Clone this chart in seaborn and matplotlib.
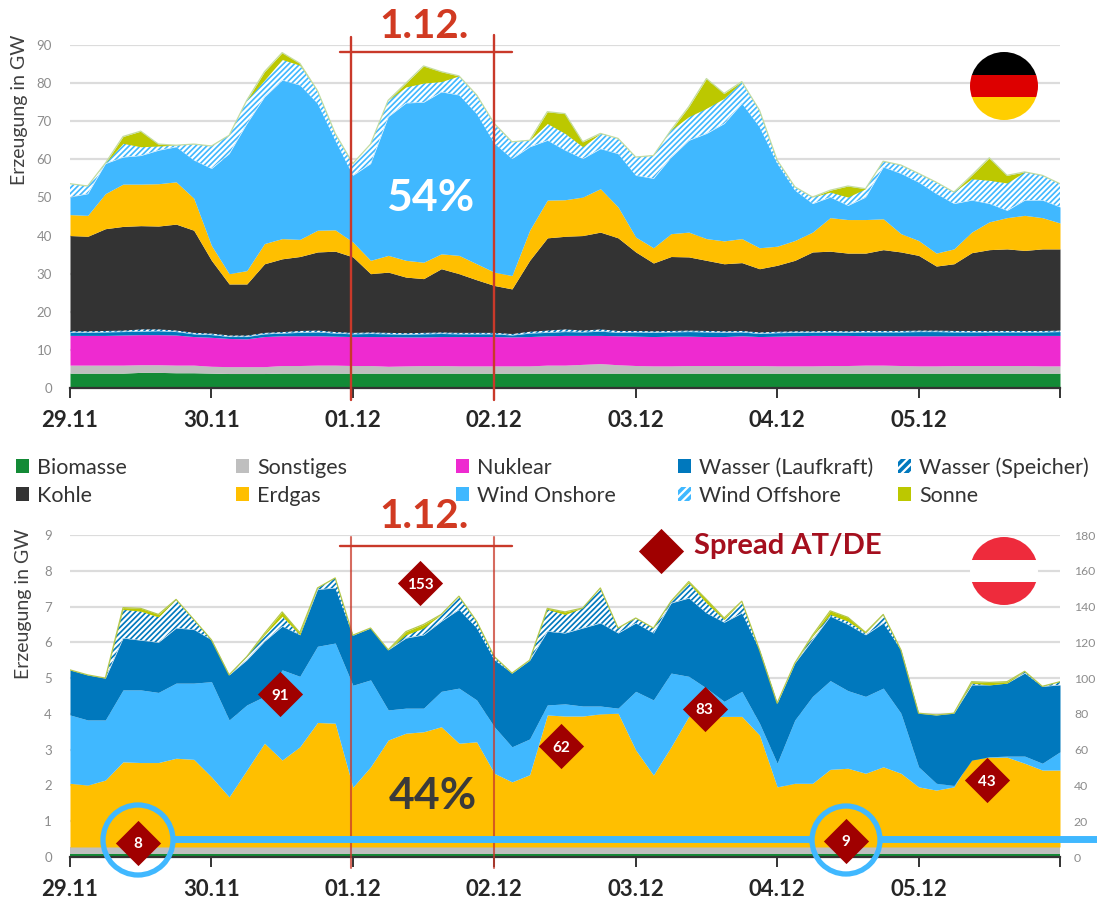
import numpy as np
import matplotlib
matplotlib.use('Agg')
import matplotlib.pyplot as plt
from matplotlib.patches import Rectangle, Circle
import seaborn as sns

hours = list(range(0, 169, 3))
day_labels = ['29.11', '30.11', '01.12', '02.12', '03.12', '04.12', '05.12']
de_ticks = [0, 10, 20, 30, 40, 50, 60, 70, 80, 90]
at_ticks = [0, 1, 2, 3, 4, 5, 6, 7, 8, 9]
spread_ticks = [0, 20, 40, 60, 80, 100, 120, 140, 160, 180]

# upper edge of each stacked layer, Germany (GW)
de_biomasse = [3.9, 3.9, 3.9, 3.9, 4.1, 4.1, 4.0, 4.0, 3.9, 3.8, 3.8, 3.8, 3.9, 3.9, 3.9, 3.9, 3.9, 3.9, 3.9, 3.9,
               3.9, 3.9, 3.9, 3.9, 3.9, 3.9, 3.9, 3.9, 3.9, 3.9, 3.9, 3.9, 3.9, 3.9, 3.9, 3.9, 3.9, 3.9,
               3.9, 3.9, 3.9, 3.9, 3.9, 3.9, 3.9, 3.9, 3.9, 3.9, 3.9, 3.9, 3.9, 3.9, 3.9, 3.9, 3.9, 3.9, 3.9]
de_sonstiges = [6.0, 6.0, 6.0, 6.0, 6.1, 6.1, 6.0, 6.0, 5.7, 5.6, 5.6, 5.6, 5.9, 5.9, 6.0, 6.0, 5.9, 5.9, 5.7, 5.8,
                5.9, 5.9, 5.8, 5.8, 5.8, 5.8, 5.8, 6.0, 6.0, 6.2, 6.4, 6.1, 5.9, 5.8, 5.8, 5.9, 5.9, 5.9,
                5.9, 5.9, 5.8, 5.8, 5.8, 5.9, 5.9, 6.0, 6.0, 5.9, 5.8, 5.8, 5.9, 5.9, 5.9, 5.9, 5.9, 5.8, 5.8]
de_nuklear = [13.8, 13.8, 13.8, 13.9, 14.0, 14.0, 13.9, 13.5, 13.3, 13.0, 12.9, 13.5, 13.7, 13.7, 13.7, 13.6, 13.5, 13.5, 13.5, 13.4,
              13.4, 13.5, 13.5, 13.5, 13.5, 13.4, 13.5, 13.7, 13.8, 13.8, 13.8, 13.7, 13.6, 13.5, 13.6, 13.6, 13.5, 13.5,
              13.7, 13.5, 13.6, 13.7, 13.8, 13.8, 13.8, 13.7, 13.7, 13.7, 13.7, 13.7, 13.7, 13.7, 13.8, 13.8, 13.8, 13.8, 13.8]
de_lauf = [14.6, 14.6, 14.7, 14.8, 14.9, 15.0, 14.8, 14.2, 14.0, 13.5, 13.5, 14.2, 14.4, 14.6, 14.7, 14.4, 14.2, 14.3, 14.2, 14.1,
           14.2, 14.3, 14.2, 14.2, 14.2, 13.9, 14.4, 14.6, 14.8, 14.7, 14.9, 14.6, 14.7, 14.6, 14.7, 14.8, 14.7, 14.6,
           14.7, 14.3, 14.5, 14.6, 14.6, 14.7, 14.6, 14.7, 14.7, 14.7, 14.8, 14.8, 14.7, 14.7, 14.7, 14.7, 14.7, 14.7, 14.8]
de_speicher = [15.0, 15.0, 15.1, 15.2, 15.5, 15.5, 15.2, 14.6, 14.4, 13.9, 13.9, 14.6, 14.8, 15.1, 15.2, 14.8, 14.6, 14.7, 14.6, 14.5,
               14.6, 14.7, 14.6, 14.6, 14.6, 14.3, 14.9, 15.2, 15.5, 15.2, 15.5, 15.1, 15.1, 15.0, 15.1, 15.2, 15.1, 15.0,
               15.1, 14.7, 14.9, 15.0, 15.0, 15.1, 15.0, 15.1, 15.1, 15.1, 15.2, 15.2, 15.1, 15.1, 15.1, 15.1, 15.1, 15.1, 15.2]
de_kohle = [40.0, 39.8, 41.8, 42.4, 42.6, 42.5, 43.0, 41.4, 33.5, 27.3, 27.3, 32.6, 33.9, 34.5, 35.7, 35.9, 34.4, 30.0, 30.4, 29.1,
            28.7, 31.3, 30.0, 28.4, 26.9, 26.0, 33.5, 39.4, 39.8, 40.0, 40.9, 39.4, 35.7, 32.8, 34.5, 34.4, 33.5, 32.6,
            32.9, 31.3, 32.2, 33.5, 35.7, 35.9, 35.4, 35.4, 36.3, 35.7, 34.8, 32.0, 32.6, 35.5, 36.3, 36.5, 36.1, 36.5, 36.5]
de_erdgas = [45.5, 45.3, 51.0, 53.5, 53.5, 53.6, 54.1, 49.8, 37.4, 30.0, 30.8, 37.9, 39.2, 39.0, 41.4, 41.5, 38.3, 33.5, 34.8, 33.5,
             33.0, 35.2, 34.8, 32.6, 30.4, 29.5, 41.4, 49.3, 49.4, 50.1, 52.3, 47.5, 39.6, 36.8, 40.5, 40.9, 39.2, 38.6,
             39.2, 36.8, 37.2, 38.7, 40.9, 44.7, 44.2, 44.2, 44.4, 40.5, 38.7, 35.4, 36.5, 40.9, 43.6, 44.7, 45.3, 44.7, 43.3]
de_onshore = [50.1, 51.0, 58.9, 60.6, 61.0, 62.4, 63.3, 59.8, 57.6, 61.5, 69.4, 76.4, 80.8, 79.5, 74.7, 65.0, 55.8, 58.9, 71.2, 74.8,
              75.0, 77.7, 76.9, 72.0, 64.2, 60.2, 63.3, 65.0, 62.4, 60.2, 62.8, 61.5, 55.8, 55.0, 60.6, 65.0, 66.8, 69.4,
              74.7, 68.5, 58.9, 51.9, 48.4, 50.1, 47.9, 50.1, 58.0, 56.3, 54.0, 51.0, 48.4, 49.3, 48.4, 46.6, 49.3, 49.3, 47.5]
de_offshore = [53.6, 53.0, 59.0, 64.2, 63.3, 63.5, 63.7, 64.0, 63.5, 66.3, 75.5, 80.8, 86.2, 84.7, 78.0, 66.8, 58.9, 64.0, 75.5, 79.0,
               80.0, 80.4, 81.9, 76.9, 69.4, 64.6, 65.0, 69.4, 66.8, 63.3, 66.8, 65.5, 60.6, 61.0, 67.7, 71.2, 73.4, 76.0,
               80.4, 72.9, 59.8, 52.8, 50.1, 51.4, 50.1, 52.3, 59.5, 58.5, 56.3, 54.0, 51.4, 54.9, 54.5, 53.8, 56.7, 55.8, 53.6]
de_sonne = [53.6, 53.0, 59.0, 66.0, 67.4, 64.0, 63.7, 64.0, 63.5, 66.3, 75.5, 83.0, 88.0, 85.2, 78.0, 66.8, 58.9, 64.0, 75.5, 80.0,
            84.5, 83.0, 81.9, 76.9, 69.4, 64.6, 65.0, 72.5, 72.0, 64.6, 66.8, 65.5, 60.6, 61.0, 67.7, 73.8, 81.2, 77.3,
            80.4, 72.9, 59.8, 52.8, 50.1, 51.9, 53.0, 52.3, 59.5, 58.5, 56.3, 54.0, 51.4, 55.8, 60.4, 55.8, 56.7, 55.8, 53.6]

# upper edge of each stacked layer, Austria (GW)
at_biomasse = [0.09] * 57
at_sonstiges = [0.28] * 57
at_erdgas = [2.06, 2.01, 2.15, 2.66, 2.64, 2.64, 2.76, 2.73, 2.24, 1.68, 2.43, 3.18, 2.71, 3.08, 3.76, 3.74, 1.95, 2.52, 3.27, 3.46,
             3.50, 3.64, 3.18, 3.22, 2.34, 2.10, 2.30, 3.97, 3.94, 3.94, 4.00, 4.02, 2.99, 2.29, 3.08, 3.93, 3.88, 3.93,
             3.93, 3.41, 1.96, 2.06, 2.06, 2.45, 2.48, 2.34, 2.52, 2.34, 1.96, 1.87, 1.96, 2.76, 2.79, 2.79, 2.62, 2.43, 2.43]
at_onshore = [3.97, 3.83, 3.83, 4.67, 4.67, 4.60, 4.86, 4.86, 4.90, 3.83, 4.25, 4.49, 5.23, 5.05, 5.89, 5.98, 4.80, 4.95, 4.11, 4.16,
              4.16, 4.63, 4.72, 4.39, 3.64, 3.08, 3.30, 4.25, 4.28, 4.22, 4.22, 4.16, 4.63, 4.39, 5.14, 5.05, 4.72, 4.35,
              4.63, 3.74, 2.62, 3.83, 4.49, 4.93, 4.65, 4.49, 4.72, 4.02, 2.52, 2.06, 2.00, 2.71, 2.80, 2.82, 2.82, 2.62, 2.94]
at_lauf = [5.23, 5.09, 5.00, 6.12, 6.06, 6.00, 6.40, 6.36, 6.07, 5.09, 5.51, 6.03, 6.45, 6.21, 7.48, 7.52, 6.20, 6.40, 5.79, 6.12,
           6.21, 6.59, 6.92, 6.40, 5.51, 5.14, 5.50, 6.31, 6.26, 6.40, 6.54, 6.26, 6.54, 6.26, 7.10, 7.24, 6.82, 6.56,
           6.82, 5.79, 4.30, 5.42, 6.07, 6.73, 6.50, 6.21, 6.54, 5.79, 4.02, 3.97, 4.02, 4.81, 4.81, 4.86, 5.14, 4.77, 4.81]
at_speicher = [5.23, 5.09, 5.00, 6.92, 6.87, 6.71, 7.20, 6.64, 6.07, 5.09, 5.60, 6.21, 6.73, 6.21, 7.52, 7.80, 6.20, 6.40, 5.79, 6.21,
               6.40, 6.78, 7.29, 6.59, 5.60, 5.14, 5.50, 6.92, 6.78, 6.96, 7.52, 6.40, 6.68, 6.40, 7.15, 7.66, 7.10, 6.64,
               7.15, 5.79, 4.30, 5.42, 6.17, 6.78, 6.59, 6.26, 6.78, 5.79, 4.02, 3.97, 4.02, 4.86, 4.81, 4.86, 5.19, 4.77, 4.90]
at_sonne = [5.23, 5.09, 5.00, 6.97, 6.95, 6.78, 7.20, 6.64, 6.07, 5.09, 5.60, 6.25, 6.85, 6.27, 7.52, 7.80, 6.20, 6.40, 5.79, 6.30,
            6.50, 6.78, 7.29, 6.59, 5.60, 5.14, 5.50, 6.95, 6.85, 6.96, 7.52, 6.40, 6.68, 6.40, 7.15, 7.70, 7.20, 6.68,
            7.15, 5.79, 4.30, 5.42, 6.20, 6.88, 6.70, 6.28, 6.78, 5.79, 4.02, 3.97, 4.02, 4.90, 4.88, 4.90, 5.19, 4.77, 4.90]

spread_hours = [11.5, 35.6, 59.4, 83.3, 107.7, 131.7, 155.6]
spread_values = [8, 91, 153, 62, 83, 9, 43]

GREEN = '#138a36'
GREY = '#bfbfbf'
PINK = '#ee2ad0'
DARKBLUE = '#0078bd'
COAL = '#333333'
GAS = '#ffbf00'
WIND = '#40b8ff'
SUN = '#bcc800'
RED = '#c9392a'
DIAMOND = '#a00000'

sns.set_style('white')
plt.rcParams['font.family'] = 'Lato'
plt.rcParams['hatch.linewidth'] = 1.6

W, H = 1097, 901
fig = plt.figure(figsize=(W / 100, H / 100), dpi=100)


def make_axes(top, bottom):
    ax = fig.add_axes([70 / W, 1 - bottom / H, 990 / W, (bottom - top) / H])
    ax.set_xlim(0, 168)
    ax.set_xticks(range(0, 169, 24))
    ax.set_xticklabels(day_labels + [''], fontsize=16, fontweight='bold', color='#262626')
    ax.tick_params(axis='x', direction='out', length=7, width=1.4, color='#333333', pad=9, bottom=True)
    ax.tick_params(axis='y', labelsize=9.5, labelcolor='#8c8c8c', length=0, pad=13)
    ax.grid(axis='y', color='#dcdcdc', lw=1.6)
    ax.grid(axis='x', visible=False)
    ax.set_axisbelow(True)
    sns.despine(ax=ax, left=True, top=True, right=True)
    ax.spines['bottom'].set_color('#333333')
    ax.spines['bottom'].set_linewidth(1.6)
    return ax


def stack(ax, layers):
    lower = np.zeros(len(hours))
    for upper, color, hatched in layers:
        upper = np.array(upper)
        if hatched:
            ax.fill_between(hours, lower, upper, facecolor=color, edgecolor='white',
                            hatch='//////', linewidth=0, zorder=2)
        else:
            ax.fill_between(hours, lower, upper, color=color, linewidth=0, zorder=2)
        lower = upper


# Germany
ax_de = make_axes(45, 388)
ax_de.set_ylim(0, 90)
ax_de.set_yticks(de_ticks)
stack(ax_de, [(de_biomasse, GREEN, False), (de_sonstiges, GREY, False), (de_nuklear, PINK, False),
              (de_lauf, DARKBLUE, False), (de_speicher, DARKBLUE, True), (de_kohle, COAL, False),
              (de_erdgas, GAS, False), (de_onshore, WIND, False), (de_offshore, WIND, True),
              (de_sonne, SUN, False)])
sns.lineplot(x=hours, y=de_sonne, ax=ax_de, color='#c4dca0', lw=0.9, zorder=3)

# Austria
ax_at = make_axes(535, 857)
ax_at.set_ylim(0, 9)
ax_at.set_yticks(at_ticks)
stack(ax_at, [(at_biomasse, GREEN, False), (at_sonstiges, GREY, False), (at_erdgas, GAS, False),
              (at_onshore, WIND, False), (at_lauf, DARKBLUE, False), (at_speicher, DARKBLUE, True),
              (at_sonne, SUN, False)])
sns.lineplot(x=hours, y=at_sonne, ax=ax_at, color='#b5c84a', lw=0.9, zorder=3)

# spread on the right axis, labels kept inside the picture
ax_sp = ax_at.twinx()
ax_sp.set_ylim(0, 180)
ax_sp.set_yticks(spread_ticks)
ax_sp.tick_params(axis='y', labelsize=8.8, labelcolor='#8c8c8c', length=0, pad=10)
ax_sp.grid(False)
sns.despine(ax=ax_sp, left=True, top=True, right=True, bottom=True)
sns.scatterplot(x=spread_hours, y=spread_values, ax=ax_sp, marker='D', s=530, color=DIAMOND,
                linewidth=0, zorder=5, clip_on=False, legend=False)
for h, v in zip(spread_hours, spread_values):
    ax_sp.text(h, v, str(v), color='white', fontsize=11, fontweight='bold', ha='center',
               va='center_baseline', zorder=6)

# overlay in pixel coordinates for the notes, legend and flags
ov = fig.add_axes([0, 0, 1, 1], zorder=10)
ov.set_xlim(0, W)
ov.set_ylim(H, 0)
ov.axis('off')

ov.text(20, 110, 'Erzeugung in GW', rotation=90, fontsize=14, color='#404040', ha='center', va='center')
ov.text(24, 604, 'Erzeugung in GW', rotation=90, fontsize=14, color='#404040', ha='center', va='center')

# 1.12. window
for y in (27, 517):
    ov.text(424, y, '1.12.', fontsize=29, fontweight='bold', color='#d13a22', ha='center', va='center')
ov.plot([340, 512], [52, 52], color=RED, lw=1.7)
ov.plot([351, 351], [37, 400], color=RED, lw=1.7)
ov.plot([494, 494], [35, 400], color=RED, lw=1.7)
ov.plot([340, 512], [546, 546], color=RED, lw=1.7)
ov.plot([351, 351], [537, 868], color=RED, lw=1.5, alpha=0.75)
ov.plot([494, 494], [537, 868], color=RED, lw=1.5, alpha=0.75)

ov.text(430, 198, '54%', fontsize=32, fontweight='bold', color='white', ha='center', va='center')
ov.text(433, 796, '44%', fontsize=32, fontweight='bold', color='#3a3a3a', ha='center', va='center')

# spread note
ov.scatter([661], [551], marker='D', s=530, color=DIAMOND, linewidth=0)
ov.text(694, 546, 'Spread AT/DE', fontsize=21, fontweight='bold', color='#a50f1e', ha='left', va='center')

# low spread highlight
ov.plot([172, 812], [839, 839], color=WIND, lw=5, solid_capstyle='butt')
ov.plot([880, W], [839, 839], color=WIND, lw=5, solid_capstyle='butt')
ov.add_patch(Circle((138, 840), 35, fill=False, edgecolor=WIND, lw=3.8))
ov.add_patch(Circle((846, 840), 34, fill=False, edgecolor=WIND, lw=3.8))

# legend
legend_names = ['Biomasse', 'Sonstiges', 'Nuklear', 'Wasser (Laufkraft)', 'Wasser (Speicher)',
                'Kohle', 'Erdgas', 'Wind Onshore', 'Wind Offshore', 'Sonne']
legend_colors = [GREEN, GREY, PINK, DARKBLUE, DARKBLUE, COAL, GAS, WIND, WIND, SUN]
legend_hatched = [False, False, False, False, True, False, False, False, True, False]
legend_x = [16, 236, 456, 678, 898]
legend_y = [466, 494]
for i, name in enumerate(legend_names):
    x = legend_x[i % 5]
    y = legend_y[i // 5]
    if legend_hatched[i]:
        ov.add_patch(Rectangle((x, y - 7), 13, 14, facecolor=legend_colors[i], edgecolor='white',
                               hatch='////', linewidth=0))
    else:
        ov.add_patch(Rectangle((x, y - 7), 13, 14, facecolor=legend_colors[i], linewidth=0))
    ov.text(x + 21, y, name, fontsize=15.5, color='#333333', ha='left', va='center_baseline')


# flags
def flag(cx, cy, colors):
    r = 34
    disc = Circle((cx, cy), r, facecolor='white', edgecolor='none')
    ov.add_patch(disc)
    band = 2 * r / 3
    for i, c in enumerate(colors):
        bar = Rectangle((cx - r, cy - r + i * band), 2 * r, band, facecolor=c, linewidth=0)
        ov.add_patch(bar)
        bar.set_clip_path(disc)


flag(1004, 86, ['#000000', '#dd0000', '#ffce00'])
flag(1004, 571, ['#ee2b3c', '#ffffff', '#ee2b3c'])

fig.savefig('out.png', dpi=100)
